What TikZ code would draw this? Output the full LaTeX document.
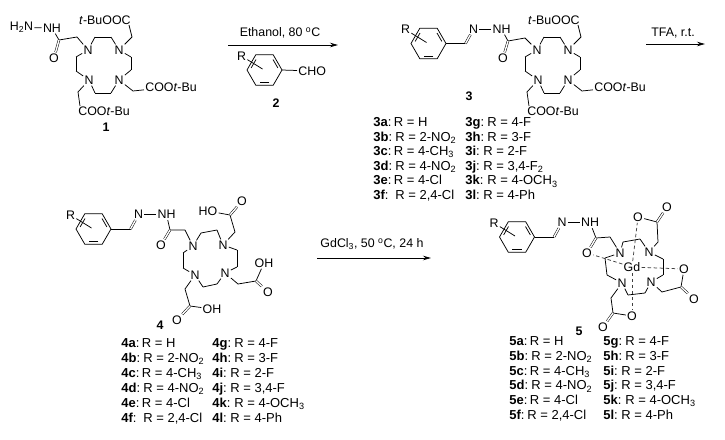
\documentclass[tikz,border=0pt]{standalone}
\usepackage{fontspec}
\setmainfont{Liberation Sans}
\usetikzlibrary{arrows.meta,calc}

\tikzset{
every node/.style={font=\fontsize{12.4}{15}\selectfont},
atom/.style={inner sep=1pt},
dbl/.style={double,double distance=1.4pt,line width=.5pt},
gdbond/.style={dash pattern=on 3.5pt off 2.5pt,draw=black!75},
rowtxt/.style={anchor=base west,inner sep=0pt,font=\fontsize{13}{15}\selectfont},
rxnarrow/.style={-{Stealth[length=8pt,width=4.5pt]}},
% benzene ring with R, origin in the ring centre
benzring/.pic={
\foreach \a in {0,60,...,300} {
\coordinate (-v\a) at (\a:17.5);
}
\draw (-v0)--(-v60)--(-v120)--(-v180)--(-v240)--(-v300)--cycle;
\foreach \a in {300,60,180} {
\draw (\a+9:13.5)--(\a+51:13.5);
}
\node[atom] (-r) at (-23,-14) {R};
\coordinate (-re) at (-2,-1);
\draw (-r)--(-re);
},
% the same ring with imine and NH
arylhyd/.pic={
\pic (-b) at (0,0) {benzring};
\coordinate (-ch) at (37,0);
\node[atom] (-n) at (45,-14.5) {N};
\node[atom] (-nh) at (73,-14.5) {NH};
\draw (-b-v0)--(-ch);
\draw[dbl] (-ch)--(-n);
\draw (-n)--(-nh);
},
% ring with three COOt-Bu arms, origin in the first N
tbuarms/.pic={
\macroring{-r}{0/0,7/-13,23/-13,31/0,43/7,43/20,31/30,23/43,7/43,1/30,-12/21,-12/7}
\node[atom,anchor=east] (-tt) at (44,-30) {\textit{t}-BuOOC};
\node[atom,anchor=west] (-tr) at (56,37) {COO\textit{t}-Bu};
\node[atom,anchor=west] (-tb) at (-11,61) {COO\textit{t}-Bu};
\coordinate (-t1) at (44,-13);
\coordinate (-t2) at (41,-25);
\coordinate (-s1) at (45,41);
\coordinate (-b1) at (-10,42);
\coordinate (-b2) at (-8,56);
\draw (-r-4)--(-t1)--(-t2);
\draw (-r-7)--(-s1)--(-tr);
\draw (-r-10)--(-b1)--(-b2);
}
}

% twelve points of the ring: N, C, C, N, ...
\newcommand{\macroring}[2]{
\foreach \px/\py [count=\i] in {#2} {
\pgfmathtruncatemacro\isn{mod(\i,3)}
\ifnum\isn=1
\node[atom] (#1-\i) at (\px,\py) {N};
\else
\coordinate (#1-\i) at (\px,\py);
\fi
}
\foreach \i in {1,...,12} {
\pgfmathtruncatemacro\j{mod(\i,12)+1}
\draw (#1-\i)--(#1-\j);
}
}

\begin{document}
\begin{tikzpicture}[x=1pt,y=-1pt,line width=.75pt,line join=round]
\useasboundingbox (0,0) rectangle (725,439);

% compound 1
\pic (m1) at (88,50) {tbuarms};
\node[atom] (h2n) at (21.5,27.5) {H\textsubscript{2}N};
\node[atom] (nh1) at (52,28) {NH};
\node[atom] (o1) at (54,58) {O};
\coordinate (c1) at (59,40);
\coordinate (ch1) at (77,37);
\draw (h2n)--(nh1);
\draw (nh1)--(c1)--(ch1)--(m1-r-1);
\draw[dbl] (c1)--(o1);
\node (lab1) at (106,127) {\textbf{1}};

% compound 2
\coordinate (a1s) at (228,45);
\coordinate (a1e) at (338,45);
\draw[rxnarrow] (a1s)--(a1e);
\node (t1) at (280,33) {Ethanol, 80 \textsuperscript{o}C};
\pic (b2) at (264.5,70) {benzring};
\node[atom,anchor=west] (cho) at (297,71) {CHO};
\draw (b2-v0)--(cho);
\node (lab2) at (276,103) {\textbf{2}};

% compound 3
\pic (a3) at (428.5,43.5) {arylhyd};
\pic (m3) at (537,50) {tbuarms};
\node[atom] (o3) at (503,58) {O};
\coordinate (c3) at (508,41);
\coordinate (ch3) at (525,38);
\draw (a3-nh)--(c3)--(ch3)--(m3-r-1);
\draw[dbl] (c3)--(o3);
\node (lab3) at (469,96) {\textbf{3}};

\coordinate (a2s) at (646,44);
\coordinate (a2e) at (705,44);
\draw[rxnarrow] (a2s)--(a2e);
\node (t2) at (673,33) {TFA, r.t.};

% compound 4
\pic (a4) at (93.5,229) {arylhyd};
\macroring{r4}{193/246,201/233,217/230,223/245,237/250,237/267,225/273,217/284,203/287,195/275,183/268,183/253}
\node[atom] (o4) at (161,245) {O};
\coordinate (c4) at (170,230);
\coordinate (ch4) at (185,230);
\draw (a4-nh)--(c4)--(ch4)--(r4-1);
\draw[dbl] (c4)--(o4);
\node[atom] (ho4a) at (208,211) {HO};
\node[atom] (o4a) at (242,201) {O};
\coordinate (c4a) at (230,215);
\coordinate (ch4a) at (235,232);
\draw (r4-4)--(ch4a)--(c4a)--(ho4a);
\draw[dbl] (c4a)--(o4a);
\node[atom] (oh4b) at (264,263) {OH};
\node[atom] (o4b) at (268,292) {O};
\coordinate (c4b) at (256,281);
\coordinate (ch4b) at (238,284);
\draw (r4-7)--(ch4b)--(c4b)--(oh4b);
\draw[dbl] (c4b)--(o4b);
\node[atom] (oh4c) at (212,309) {OH};
\node[atom] (o4c) at (177,320) {O};
\coordinate (c4c) at (190,306);
\coordinate (ch4c) at (185,289);
\draw (r4-10)--(ch4c)--(c4c)--(oh4c);
\draw[dbl] (c4c)--(o4c);
\node (lab4) at (160,325) {\textbf{4}};

\coordinate (a3s) at (317,258);
\coordinate (a3e) at (431,258);
\draw[rxnarrow] (a3s)--(a3e);
\node (t3) at (372,244) {GdCl\textsubscript{3}, 50 \textsuperscript{o}C, 24 h};

% compound 5
\pic (a5) at (517,237) {arylhyd};
\macroring{r5}{620/253,623/242,640/239,649/252,663/259,663/275,651/282,645/293,628/295,622/283,607/275,605/258}
\node[atom] (gd) at (632,267) {Gd};
\node[atom] (o5) at (587,253) {O};
\coordinate (c5) at (596,238);
\coordinate (ch5) at (610,237);
\draw (a5-nh)--(c5)--(ch5)--(r5-1);
\draw[dbl] (c5)--(o5);
\node[atom] (o5a) at (638,217) {O};
\node[atom] (o5b) at (667,207) {O};
\coordinate (c5a) at (657,222);
\coordinate (ch5a) at (658,242);
\draw (r5-4)--(ch5a)--(c5a)--(o5a);
\draw[dbl] (c5a)--(o5b);
\node[atom] (o5c) at (684,269) {O};
\node[atom] (o5d) at (694,299) {O};
\coordinate (c5c) at (681,287);
\coordinate (ch5c) at (662,292);
\draw (r5-7)--(ch5c)--(c5c)--(o5c);
\draw[dbl] (c5c)--(o5d);
\node[atom] (o5e) at (632,316) {O};
\node[atom] (o5f) at (603,327) {O};
\coordinate (c5e) at (613,313);
\coordinate (ch5e) at (611,298);
\draw (r5-10)--(ch5e)--(c5e)--(o5e);
\draw[dbl] (c5e)--(o5f);
\foreach \o in {o5,o5a,o5c,o5e} {
\draw[gdbond] (gd)--(\o);
}
\node (lab5) at (579,331) {\textbf{5}};

% the three lists of substituents
\foreach \cmp/\cola/\colb/\firsty/\rowd/\rowf/\suff in {3/373/465/126.5/14.6/22/{\textsubscript{2}},4/121/212/347.5/15/22/{},5/509/603/345.5/14.8/18/{}} {
\foreach \lett/\rsh/\txt [count=\i] in {a/20.5/{R = H},b/22/{R = 2-NO\textsubscript{2}},c/20.5/{R = 4-CH\textsubscript{3}},d/22/{R = 4-NO\textsubscript{2}},e/20.5/{R = 4-Cl},f/\rowf/{R = 2,4-Cl}} {
\node[rowtxt] (l\cmp\lett) at (\cola,\firsty+\rowd*\i-\rowd) {\textbf{\cmp\lett}:};
\node[rowtxt] (v\cmp\lett) at (\cola+\rsh,\firsty+\rowd*\i-\rowd) {\txt};
}
\foreach \lett/\rsh/\txt [count=\i] in {g/22/{R = 4-F},h/22/{R = 3-F},i/18/{R = 2-F},j/18/{R = 3,4-F\suff},k/22/{R = 4-OCH\textsubscript{3}},l/18/{R = 4-Ph}} {
\node[rowtxt] (l\cmp\lett) at (\colb,\firsty+\rowd*\i-\rowd) {\textbf{\cmp\lett}:};
\node[rowtxt] (v\cmp\lett) at (\colb+\rsh,\firsty+\rowd*\i-\rowd) {\txt};
}
}

\end{tikzpicture}
\end{document}
